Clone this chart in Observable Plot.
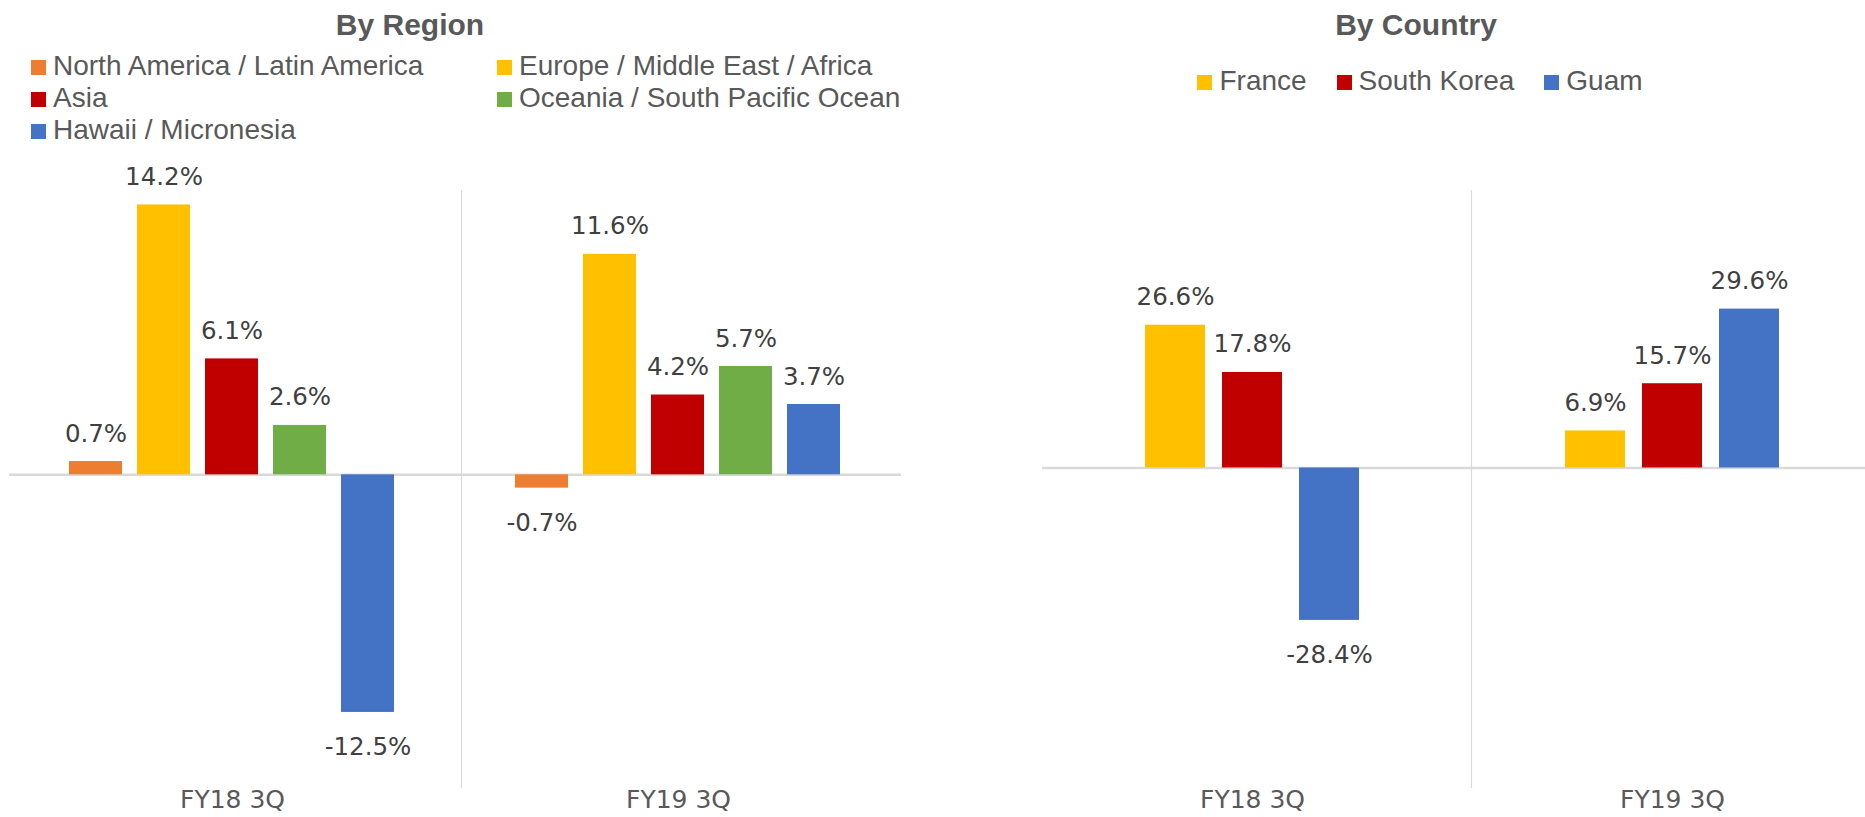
<!DOCTYPE html>
<html>
<head>
<meta charset="utf-8">
<script src="https://cdn.jsdelivr.net/npm/d3@7"></script>
<script src="https://cdn.jsdelivr.net/npm/@observablehq/plot@0.6"></script>
<style>
  html, body { margin: 0; padding: 0; background: #fff; }
  body { width: 1865px; height: 817px; overflow: hidden; position: relative; }
  .title { position: absolute; top: 7px; width: 400px; text-align: center;
           font: bold 30px/35px "Liberation Sans", Arial, sans-serif; color: #595959; }
  .legend { position: absolute; font: 28px/32px "Liberation Sans", Arial, sans-serif; color: #595959; white-space: nowrap; }
  .legend .item { display: flex; align-items: baseline; height: 32px; }
  .legend .sw { display: inline-block; width: 15px; height: 15px; margin-right: 7px; }
  #legL { left: 31px; top: 50px; display: grid; grid-template-columns: 466px auto; }
  #legR { left: 1020px; top: 65px; width: 800px; display: flex; justify-content: center; gap: 30px; }
  .chart { position: absolute; top: 150px; }
  .chart svg { overflow: visible; }
</style>
</head>
<body>
<div class="title" style="left:210px">By Region</div>
<div class="title" style="left:1216px">By Country</div>
<div class="legend" id="legL"></div>
<div class="legend" id="legR"></div>
<div class="chart" id="chartL" style="left:0px"></div>
<div class="chart" id="chartR" style="left:930px"></div>
<script>
// ---- data ----
const categories = ["FY18 3Q", "FY19 3Q"];
const regions = ["North America / Latin America", "Europe / Middle East / Africa", "Asia", "Oceania / South Pacific Ocean", "Hawaii / Micronesia"];
const regionColors = ["#ED7D31", "#FFC000", "#C00000", "#70AD47", "#4472C4"];
const regionFY18 = [0.7, 14.2, 6.1, 2.6, -12.5];
const regionFY19 = [-0.7, 11.6, 4.2, 5.7, 3.7];
const countries = ["France", "South Korea", "Guam"];
const countryColors = ["#FFC000", "#C00000", "#4472C4"];
const countryFY18 = [26.6, 17.8, -28.4];
const countryFY19 = [6.9, 15.7, 29.6];

function table(series, a, b) {
  const rows = [];
  series.forEach((s, i) => rows.push({cat: categories[0], series: s, value: a[i]}));
  series.forEach((s, i) => rows.push({cat: categories[1], series: s, value: b[i]}));
  return rows;
}
const regionData = table(regions, regionFY18, regionFY19);
const countryData = table(countries, countryFY18, countryFY19);

function legend(el, names, colors) {
  names.forEach((n, i) => {
    const it = document.createElement("div");
    it.className = "item";
    const sw = document.createElement("span");
    sw.className = "sw";
    sw.style.background = colors[i];
    it.appendChild(sw);
    it.appendChild(document.createTextNode(n));
    el.appendChild(it);
  });
}
legend(document.getElementById("legL"), regions, regionColors);
legend(document.getElementById("legR"), countries, countryColors);

const fmt = d => d.value.toFixed(1) + "%";

function chart(data, series, colors, opts) {
  return Plot.plot({
    width: opts.width,
    height: 667,
    marginTop: 40,
    marginBottom: 30,
    marginLeft: opts.marginLeft,
    marginRight: opts.marginRight,
    style: {fontFamily: "DejaVu Sans, Verdana, sans-serif", fontSize: "25px", color: "#595959", background: "transparent"},
    fx: {domain: categories, padding: 0, label: null, axis: "bottom", tickSize: 0, tickPadding: 3},
    x: {domain: series, paddingInner: opts.pi, paddingOuter: opts.po, axis: null},
    y: {domain: opts.ydomain, axis: null},
    color: {domain: series, range: colors},
    marks: [
      Plot.frame({anchor: "right", stroke: "#D9D9D9", strokeWidth: 1.2, fx: [categories[0]], dx: opts.sepDx}),
      Plot.ruleY([0], {stroke: "#D9D9D9", strokeWidth: 2.5}),
      Plot.barY(data, {fx: "cat", x: "series", y: "value", fill: "series"}),
      Plot.text(data.filter(d => d.value >= 0), {fx: "cat", x: "series", y: "value", text: fmt,
        lineAnchor: "bottom", dy: -20, fill: "#404040", fontSize: 24.5}),
      Plot.text(data.filter(d => d.value < 0), {fx: "cat", x: "series", y: "value", text: fmt,
        lineAnchor: "top", dy: 25, fill: "#404040", fontSize: 24.5})
    ]
  });
}

document.getElementById("chartL").appendChild(chart(regionData, regions, regionColors, {
  width: 930, marginLeft: 9, marginRight: 29, pi: 0.216, po: 0.861, ydomain: [-16.45, 14.96], sepDx: 6
}));
document.getElementById("chartR").appendChild(chart(countryData, countries, countryColors, {
  width: 935, marginLeft: 112, marginRight: -17, pi: 0.22, po: 1.337, ydomain: [-59.53, 51.7], sepDx: 9
}));
</script>
</body>
</html>
